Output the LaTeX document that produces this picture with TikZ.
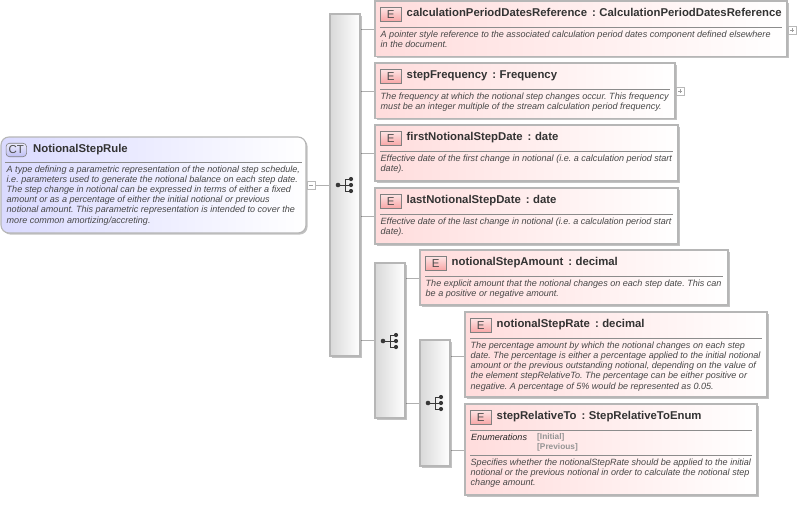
\documentclass[tikz,border=0pt]{standalone}
\usepackage{fontspec}
\setmainfont{Liberation Sans}
\usetikzlibrary{shadows,fadings}
\definecolor{edgeg}{HTML}{B6B6B6}
\definecolor{txt}{HTML}{333333}
\definecolor{linec}{HTML}{B0B0B0}
\definecolor{pinkl}{HTML}{FFDCDC}
\definecolor{bluel}{HTML}{DADAFF}
\definecolor{badgeR}{HTML}{F8A8A8}
\definecolor{badgeB}{HTML}{BEBEF4}
\tikzset{
  x=1pt,y=-1pt,
  shadowed/.style={drop shadow={shadow xshift=1.6pt,shadow yshift=-1.6pt,fill=black,opacity=.24}},
  elbox/.style={draw=edgeg,line width=1.1pt,left color=pinkl,right color=white,shadowed},
  ctbox/.style={draw=edgeg,line width=1.1pt,rounded corners=8pt,left color=bluel,right color=white,shadowed},
  compbox/.style={draw=edgeg,line width=1.1pt,left color=black!15,right color=white,shadowed},
  link/.style={draw=linec,line width=.7pt},
  sep/.style={draw=black!45,line width=.6pt},
  badge/.style={draw=black!50,line width=.6pt,top color=badgeR!30,bottom color=badgeR,minimum width=21pt,minimum height=13.5pt,inner sep=0pt,anchor=north west,font=\fontsize{11.5}{11.5}\selectfont,text=black!70},
  ttl/.style={anchor=base west,inner sep=0pt,font=\bfseries\fontsize{11.35}{13}\selectfont,text=txt},
  dsc/.style={anchor=north west,inner sep=0pt,align=left,font=\frenchspacing\itshape\fontsize{9.05}{10.2}\selectfont,text=black!72},
  pm/.style={draw=black!28,line width=.5pt,fill=white},
  pmm/.style={draw=black!38,line width=.5pt},
}
\newcommand{\seqicon}[3]{%
  \begin{scope}[shift={(#1,#2)}]
   \node[inner sep=0pt,minimum size=0pt] (#3) at (0,0) {};
   \fill[black!78] (-7,0) circle (2.3pt);
   \draw[black!78,line width=1pt] (-7,0) -- (0,0) (0,-6) -- (0,6) (0,-6) -- (6,-6) (0,0) -- (6,0) (0,6) -- (6,6);
   \fill[black!78] (6,-6) circle (2.1pt) (6,0) circle (2.1pt) (6,6) circle (2.1pt);
  \end{scope}}
\newcommand{\elem}[9]{% name,x,y,right,bottom,sep y,title,desc y,desc
  \path[elbox] (#2,#3) rectangle (#4,#5);
  \node[inner sep=0pt,minimum size=0pt] (#1) at (#2,#3) {};
  \node[badge] (#1b) at (#2+5,#3+6) {E};
  \node[ttl] (#1t) at (#2+31.5,#3+15.8) {#7};
  \draw[sep] (#2+5,#6) -- (#4-5,#6);
  \node[dsc] (#1d) at (#2+5.5,#8) {#9};}
\newcommand{\csep}{\hspace{5pt}:\hspace{3.5pt}}
\begin{document}
\begin{tikzpicture}
\useasboundingbox (0,0) rectangle (797,504);
\fill[white] (0,0) rectangle (797,504);
% links
\coordinate (c1) at (360,29); \coordinate (e1) at (375,29);
\coordinate (c2) at (360,91); \coordinate (e2) at (375,91);
\coordinate (c3) at (360,153); \coordinate (e3) at (375,153);
\coordinate (c4) at (360,216); \coordinate (e4) at (375,216);
\coordinate (c5) at (360,340); \coordinate (e5) at (375,340);
\coordinate (c6) at (405,278); \coordinate (e6) at (420,278);
\coordinate (c7) at (405,403); \coordinate (e7) at (420,403);
\coordinate (c8) at (450,356); \coordinate (e8) at (465,356);
\coordinate (c9) at (450,450); \coordinate (e9) at (465,450);
\foreach \i in {1,...,9} {\draw[link] (c\i) -- (e\i);}
\coordinate (m) at (315,185); \coordinate (cc) at (330,185);
\draw[link] (m) -- (cc);
% compositors
\path[compbox] (330,14) rectangle (360,356);
\path[compbox] (375,263) rectangle (405,418);
\path[compbox] (420,340) rectangle (450,466);
\seqicon{345}{185}{s1}
\seqicon{390}{341}{s2}
\seqicon{435}{403}{s3}
% CT
\path[ctbox] (1,137) rectangle (306,233);
\node[draw=black!50,line width=.6pt,rounded corners=3.5pt,top color=badgeB!30,bottom color=badgeB,minimum width=20.5pt,minimum height=13.5pt,inner sep=0pt,font=\fontsize{11.5}{11.5}\selectfont,text=black!70] (ctb) at (16.3,150) {CT};
\node[ttl] (ctt) at (33,152.5) {NotionalStepRule};
\draw[sep] (5,162.5) -- (302,162.5);
\node[dsc] (ctd) at (6.5,165.3) {A type defining a parametric representation of the notional step schedule,\\i.e. parameters used to generate the notional balance on each step date.\\The step change in notional can be expressed in terms of either a fixed\\amount or as a percentage of either the initial notional or previous\\notional amount. This parametric representation is intended to cover the\\more common amortizing/accreting.};
\draw[pm] (307,181) rectangle (315,189); \draw[pmm] (309,185) -- (313,185);
% elements
\elem{a}{375}{1}{787}{56.7}{27.5}{calculationPeriodDatesReference\csep CalculationPeriodDatesReference}{30.3}{A pointer style reference to the associated calculation period dates component defined elsewhere\\in the document.}
\elem{b}{375}{63}{675}{118.7}{89.5}{stepFrequency\csep Frequency}{92.3}{The frequency at which the notional step changes occur. This frequency\\must be an integer multiple of the stream calculation period frequency.}
\elem{c}{375}{125}{678}{181}{151.5}{firstNotionalStepDate\csep date}{154.5}{Effective date of the first change in notional (i.e. a calculation period start\\date).}
\elem{d}{375}{188}{678}{244}{214.5}{lastNotionalStepDate\csep date}{217.5}{Effective date of the last change in notional (i.e. a calculation period start\\date).}
\elem{f}{420}{250}{728}{305}{276.5}{notionalStepAmount\csep decimal}{279.5}{The explicit amount that the notional changes on each step date. This can\\be a positive or negative amount.}
\elem{g}{465}{312}{767}{397}{338.5}{notionalStepRate\csep decimal}{341.5}{The percentage amount by which the notional changes on each step\\date. The percentage is either a percentage applied to the initial notional\\amount or the previous outstanding notional, depending on the value of\\the element stepRelativeTo. The percentage can be either positive or\\negative. A percentage of 5\% would be represented as 0.05.}
\elem{h}{465}{404}{757}{495}{430.5}{stepRelativeTo\csep StepRelativeToEnum}{458.5}{Specifies whether the notionalStepRate should be applied to the initial\\notional or the previous notional in order to calculate the notional step\\change amount.}
\draw[sep] (470,455.5) -- (752,455.5);
\node[dsc,text=black!85] (en) at (471,433.3) {Enumerations};
\node[anchor=north west,inner sep=0pt,align=left,font=\bfseries\fontsize{8.3}{10}\selectfont,text=black!42] (ev) at (537,433.3) {[Initial]\\[0pt][Previous]};
\draw[pm] (788,26) rectangle (796,34); \draw[pmm] (790,30) -- (794,30) (792,28) -- (792,32);
\draw[pm] (676,87) rectangle (684,95); \draw[pmm] (678,91) -- (682,91) (680,89) -- (680,93);
\end{tikzpicture}
\end{document}
